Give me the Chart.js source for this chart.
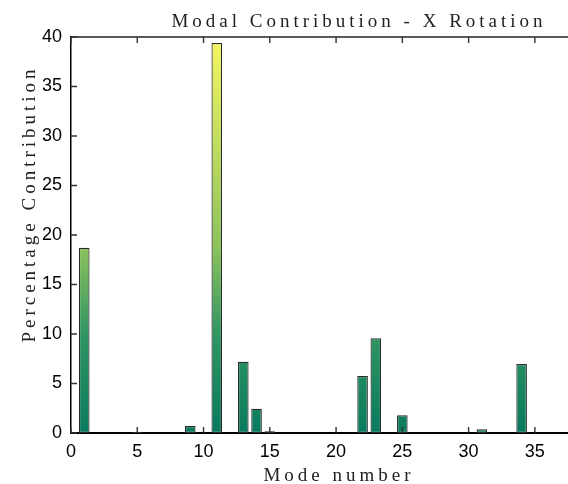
<!DOCTYPE html>
<html>
<head>
<meta charset="utf-8">
<script src="https://cdn.jsdelivr.net/npm/chart.js@4"></script>
<style>
  html, body { margin: 0; padding: 0; background: #fff; }
  #wrap { width: 568px; height: 484px; }
</style>
</head>
<body>
<div id="wrap"><canvas id="modalChart"></canvas></div>
<script>
// modal contribution per mode (X rotation), percent
var modes = [1, 2, 3, 4, 5, 6, 7, 8, 9, 10, 11, 12, 13, 14, 15, 16, 17, 18, 19,
             20, 21, 22, 23, 24, 25, 26, 27, 28, 29, 30, 31, 32, 33, 34, 35, 36, 37];
var contribution = [18.7, 0, 0, 0, 0.1, 0, 0, 0, 0.7, 0, 39.4, 0, 7.2, 2.45, 0.17, 0, 0, 0, 0,
                    0, 0, 5.76, 9.56, 0, 1.79, 0, 0, 0, 0, 0, 0.37, 0, 0, 6.97, 0, 0, 0];
var yTicks = [0, 5, 10, 15, 20, 25, 30, 35, 40];
var xTicks = [0, 5, 10, 15, 20, 25, 30, 35];

var titleText = 'Modal Contribution - X Rotation';
var xLabel = 'Mode number';
var yLabel = 'Percentage Contribution';

var serif = '19px "Liberation Serif", "DejaVu Serif", serif';

// colour bars by height: green at the baseline, yellow at the top of the axis
function barGradient(context) {
    var chart = context.chart;
    var area = chart.chartArea;
    if (!area) return '#0b7d60';
    var y = chart.scales.y;
    var g = chart.ctx.createLinearGradient(0, y.getPixelForValue(0), 0, y.getPixelForValue(40));
    g.addColorStop(0, 'rgb(8,122,94)');
    g.addColorStop(0.25, 'rgb(48,150,98)');
    g.addColorStop(0.47, 'rgb(140,194,92)');
    g.addColorStop(1, 'rgb(246,247,98)');
    return g;
}

// inward ticks, top box edge and spaced serif labels
var axesDecor = {
    id: 'axesDecor',
    afterDraw: function (chart) {
        var ctx = chart.ctx;
        var a = chart.chartArea;
        var xs = chart.scales.x, ys = chart.scales.y;
        ctx.save();
        ctx.strokeStyle = '#222';
        ctx.lineWidth = 1.5;
        ctx.beginPath();
        ctx.moveTo(a.left, a.top);
        ctx.lineTo(a.right, a.top);
        ctx.stroke();

        ctx.lineWidth = 1.4;
        ctx.strokeStyle = '#333';
        ctx.beginPath();
        xTicks.forEach(function (v) {
            var px = xs.getPixelForValue(v);
            ctx.moveTo(px, a.bottom);
            ctx.lineTo(px, a.bottom - 6);
            ctx.moveTo(px, a.top);
            ctx.lineTo(px, a.top + 6);
        });
        yTicks.forEach(function (v) {
            var py = ys.getPixelForValue(v);
            ctx.moveTo(a.left, py);
            ctx.lineTo(a.left + 6, py);
        });
        ctx.stroke();

        ctx.fillStyle = '#222';
        ctx.font = serif;
        ctx.letterSpacing = '4px';
        ctx.textAlign = 'center';
        ctx.textBaseline = 'alphabetic';
        ctx.fillText(titleText, 359, 27);
        ctx.fillText(xLabel, 339, 481);
        ctx.translate(35, 206);
        ctx.rotate(-Math.PI / 2);
        ctx.fillText(yLabel, 2, 0);
        ctx.restore();
    }
};

var ctx = document.getElementById('modalChart').getContext('2d');
var modalChart = new Chart(ctx, {
    type: 'bar',
    data: {
        datasets: [{
            label: 'Contribution',
            data: modes.map(function (m, i) { return { x: m, y: contribution[i] }; }),
            backgroundColor: barGradient,
            borderColor: '#2a2a2a',
            borderWidth: 1.2,
            borderSkipped: false,
            barPercentage: 0.8,
            categoryPercentage: 1.0
        }]
    },
    options: {
        responsive: true,
        maintainAspectRatio: false,
        animation: false,
        layout: { padding: { top: 37, left: 0, right: 0, bottom: 0 } },
        plugins: {
            legend: { display: false },
            tooltip: { enabled: false }
        },
        scales: {
            x: {
                type: 'linear',
                offset: false,
                min: 0,
                max: 37.5,
                grid: { display: false, drawTicks: false, offset: false },
                border: { color: '#000', width: 2 },
                ticks: {
                    stepSize: 5,
                    includeBounds: false,
                    padding: 8,
                    color: '#000',
                    font: { family: '"Liberation Sans", Arial, sans-serif', size: 18 }
                },
                afterFit: function (scale) { scale.height = 51; }
            },
            y: {
                min: 0,
                max: 40,
                grid: { display: false, drawTicks: false },
                border: { color: '#000', width: 1.5 },
                ticks: {
                    stepSize: 5,
                    padding: 9,
                    color: '#000',
                    font: { family: '"Liberation Sans", Arial, sans-serif', size: 18 }
                },
                afterFit: function (scale) { scale.width = 71; }
            }
        }
    },
    plugins: [axesDecor]
});
</script>
</body>
</html>
